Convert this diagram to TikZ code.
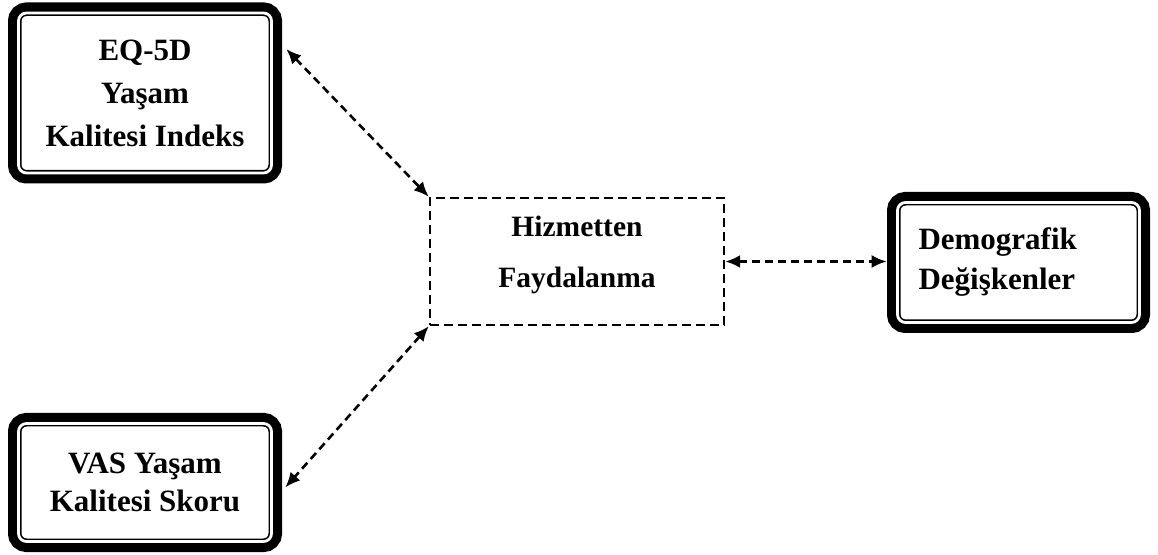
\documentclass[tikz,border=0pt]{standalone}
\usepackage{fontspec}
\setmainfont{Liberation Serif}
\usetikzlibrary{arrows.meta}

\begin{document}
\begin{tikzpicture}[x=1pt,y=1pt,
		varbox/.style={draw, fill=white, line width=1.6pt, double, double distance=2.8pt, rounded corners=8pt, preaction={draw, line width=21pt}, inner sep=0pt, align=center},
		link/.style={line width=2.6pt, dash pattern=on 8pt off 5pt, {Latex[length=15pt,width=13pt]}-{Latex[length=15pt,width=13pt]}}]
		\useasboundingbox (0,0) rectangle (1158,554);
		\node [varbox, minimum width=253, minimum height=160, font=\fontsize{31}{43}\selectfont\bfseries] (eq) at (145,461) {EQ-5D\\Yaşam\\Kalitesi Indeks};
		\node [varbox, minimum width=253, minimum height=118, font=\fontsize{31}{38}\selectfont\bfseries] (vas) at (145,71.5) {VAS Yaşam\\Kalitesi Skoru};
		\node [varbox, minimum width=242, minimum height=120, text width=200pt, align=left, font=\fontsize{31}{40}\selectfont\bfseries] (dem) at (1018.5,291.5) {Demografik\\Değişkenler};
		\node [draw, line width=2.4pt, dash pattern=on 9pt off 5pt, minimum width=294, minimum height=127] (hiz) at (577,292.5) {};
		\node [align=center, font=\fontsize{29.5}{51}\selectfont\bfseries] (hiztext) at ([yshift=7pt]hiz.center) {Hizmetten\\Faydalanma};
		
		\draw [link] ([shift={(14pt,44pt)}]eq.east) -- (hiz.north west);
		\draw [link] (hiz.south west) -- ([shift={(13pt,-5pt)}]vas.east);
		\draw [link] (hiz.east) -- ([xshift=-10pt]dem.west |- hiz.east);
		\end{tikzpicture}
\end{document}
